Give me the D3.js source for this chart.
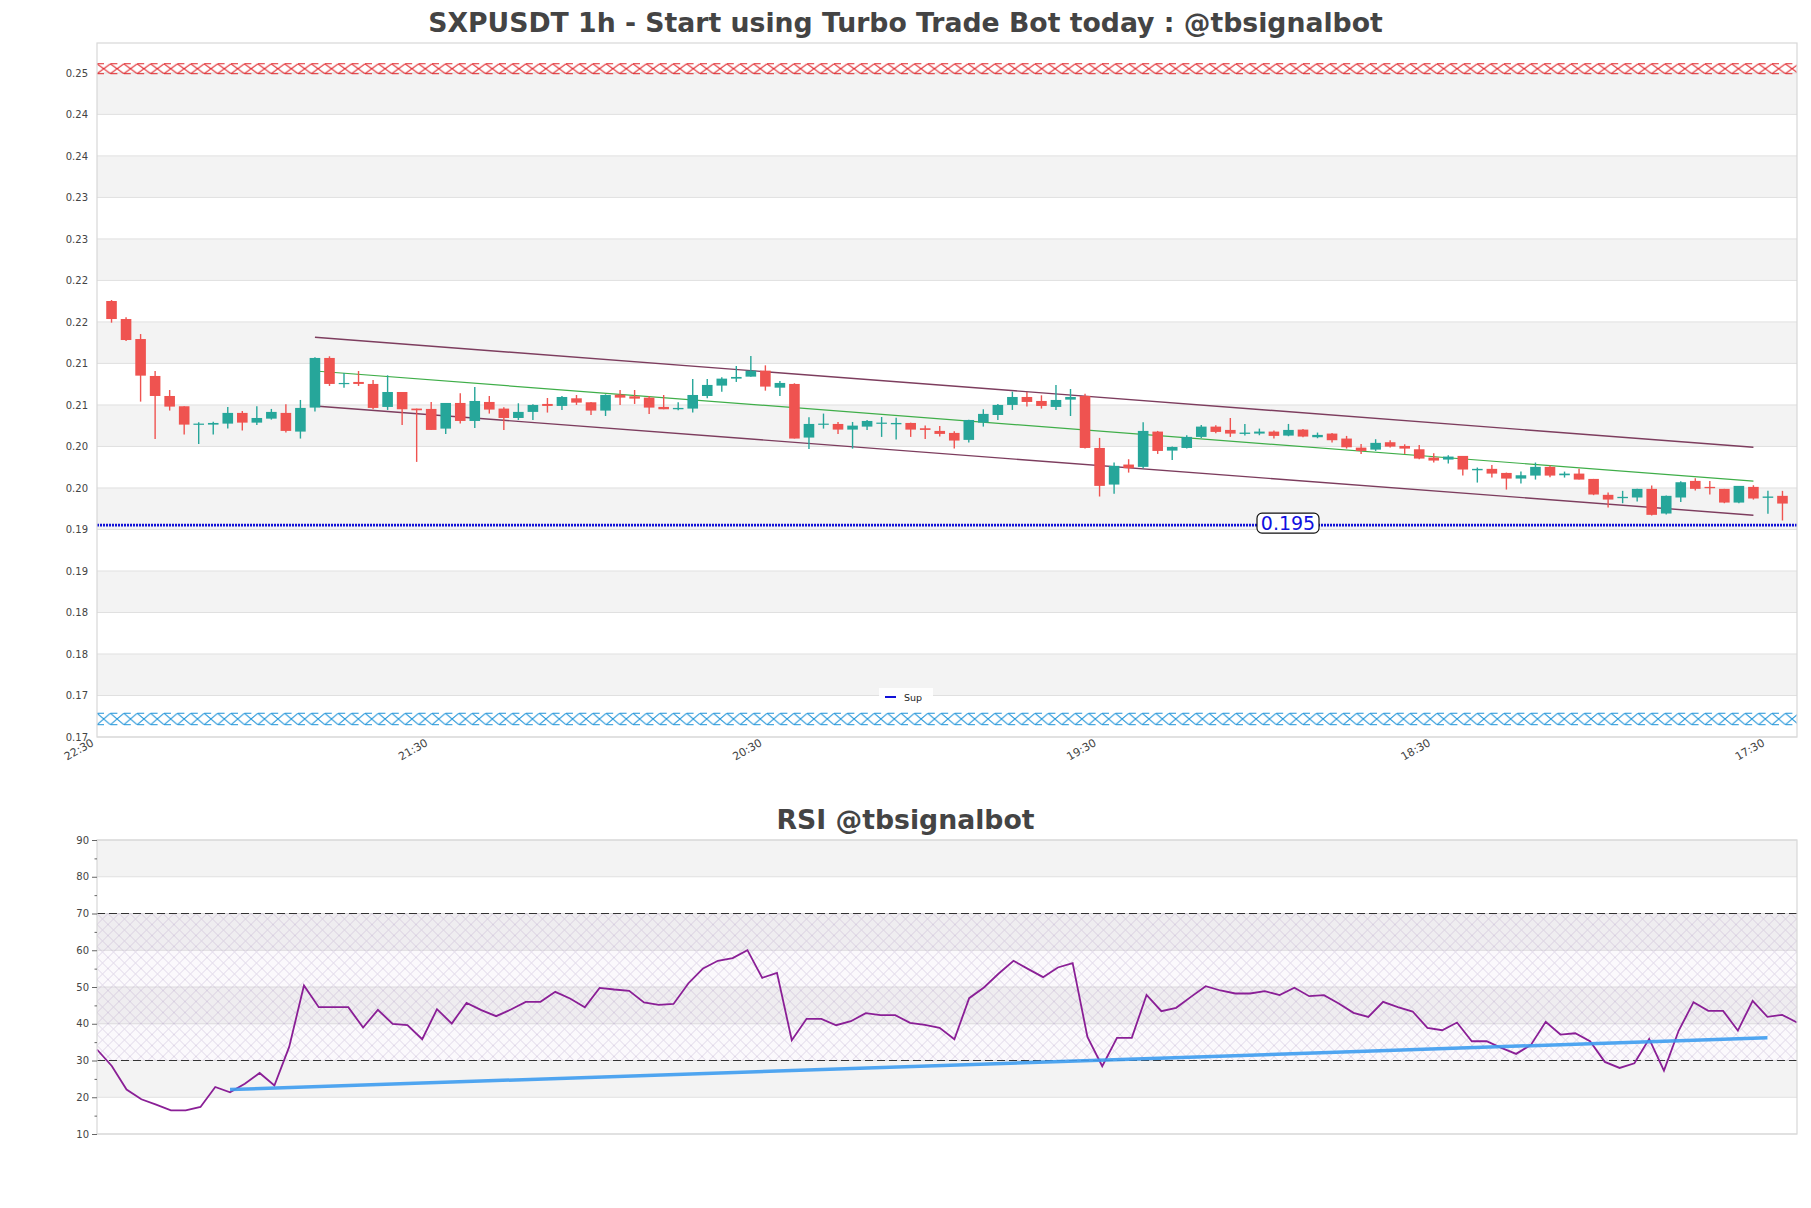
<!DOCTYPE html>
<html><head><meta charset="utf-8">
<script src="https://cdn.jsdelivr.net/npm/d3@7"></script>
<style>body{margin:0;background:#fff;} svg{display:block;font-family:"DejaVu Sans",sans-serif;}</style>
</head><body><svg id="c" width="1811" height="1208"></svg>
<script>
// ---------------- DATA ----------------
const titleMain = "SXPUSDT 1h - Start using Turbo Trade Bot today : @tbsignalbot";
const titleRsi = "RSI @tbsignalbot";

const xTickPos = [0, 23, 46, 69, 92, 115];
const xTickLabels = ["22:30", "21:30", "20:30", "19:30", "18:30", "17:30"];

const yTickValues = [0.1696,0.1746,0.1796,0.1846,0.1896,0.1946,0.1996,0.2046,0.2096,0.2146,0.2196,0.2246,0.2296,0.2346,0.2396,0.2446,0.2496];
const yTickLabels = ["0.17","0.17","0.18","0.18","0.19","0.19","0.20","0.20","0.21","0.21","0.22","0.22","0.23","0.23","0.24","0.24","0.25"];

const opens = [
0.22212,0.21995,0.21754,0.21309,0.21068,0.20944,0.20723,0.20723,0.20735,0.20864,
0.20747,0.20795,0.20864,0.20639,0.20928,0.21526,0.21213,0.21237,0.21213,0.20936,
0.21116,0.20916,0.20912,0.20675,0.20984,0.20767,0.20996,0.20916,0.20803,0.20876,
0.20972,0.20948,0.21040,0.20992,0.20892,0.21084,0.21064,0.21048,0.20936,0.20908,
0.20916,0.21068,0.21193,0.21277,0.21301,0.21373,0.21168,0.21213,0.20567,0.20727,
0.20731,0.20663,0.20699,0.20735,0.20727,0.20743,0.20679,0.20647,0.20623,0.20539,
0.20747,0.20839,0.20960,0.21056,0.21008,0.20936,0.21024,0.21068,0.20442,0.20001,
0.20242,0.20214,0.20639,0.20410,0.20442,0.20575,0.20699,0.20659,0.20611,0.20615,
0.20639,0.20591,0.20663,0.20571,0.20615,0.20555,0.20446,0.20422,0.20511,0.20466,
0.20426,0.20326,0.20302,0.20346,0.20173,0.20190,0.20141,0.20073,0.20109,0.20214,
0.20113,0.20133,0.20069,0.19877,0.19837,0.19845,0.19949,0.19652,0.19845,0.20045,
0.19973,0.19949,0.19784,0.19973,0.19841,0.19865];
const closes = [
0.21995,0.21742,0.21313,0.21068,0.20940,0.20723,0.20735,0.20743,0.20864,0.20747,
0.20803,0.20876,0.20647,0.20924,0.21526,0.21213,0.21225,0.21213,0.20924,0.21116,
0.20908,0.20896,0.20659,0.20984,0.20767,0.21008,0.20904,0.20803,0.20876,0.20960,
0.20948,0.21056,0.20988,0.20892,0.21080,0.21048,0.21036,0.20928,0.20908,0.20924,
0.21080,0.21201,0.21277,0.21297,0.21373,0.21181,0.21225,0.20555,0.20731,0.20735,
0.20663,0.20711,0.20767,0.20747,0.20743,0.20663,0.20659,0.20611,0.20531,0.20779,
0.20852,0.20960,0.21056,0.20996,0.20948,0.21020,0.21056,0.20442,0.19985,0.20226,
0.20198,0.20647,0.20406,0.20454,0.20575,0.20699,0.20635,0.20615,0.20627,0.20639,
0.20587,0.20659,0.20579,0.20599,0.20535,0.20450,0.20406,0.20503,0.20458,0.20434,
0.20314,0.20290,0.20338,0.20182,0.20190,0.20133,0.20073,0.20113,0.20214,0.20109,
0.20133,0.20061,0.19881,0.19820,0.19853,0.19949,0.19636,0.19865,0.20029,0.19949,
0.19957,0.19784,0.19985,0.19833,0.19857,0.19772];
const highs = [
0.22224,0.22015,0.21814,0.21369,0.21140,0.20944,0.20751,0.20759,0.20936,0.20888,
0.20944,0.20912,0.20968,0.21020,0.21534,0.21546,0.21345,0.21369,0.21261,0.21317,
0.21116,0.20916,0.20996,0.20984,0.21100,0.21177,0.21068,0.20932,0.20980,0.20968,
0.21044,0.21068,0.21080,0.20996,0.21088,0.21140,0.21140,0.21068,0.21080,0.20992,
0.21273,0.21273,0.21293,0.21429,0.21550,0.21437,0.21249,0.21221,0.20811,0.20856,
0.20755,0.20755,0.20779,0.20815,0.20807,0.20747,0.20711,0.20707,0.20643,0.20783,
0.20908,0.20972,0.21120,0.21116,0.21076,0.21201,0.21152,0.21096,0.20563,0.20266,
0.20306,0.20751,0.20647,0.20458,0.20595,0.20719,0.20715,0.20803,0.20731,0.20675,
0.20651,0.20731,0.20671,0.20627,0.20623,0.20587,0.20491,0.20547,0.20535,0.20486,
0.20478,0.20378,0.20354,0.20346,0.20206,0.20238,0.20145,0.20157,0.20266,0.20230,
0.20157,0.20190,0.20069,0.19905,0.19925,0.19949,0.19989,0.19869,0.20041,0.20077,
0.20045,0.19949,0.19985,0.19993,0.19925,0.19925];
const lows = [
0.21951,0.21730,0.21000,0.20551,0.20892,0.20603,0.20491,0.20603,0.20675,0.20651,
0.20719,0.20783,0.20627,0.20555,0.20880,0.21189,0.21168,0.21189,0.20908,0.20900,
0.20719,0.20274,0.20659,0.20611,0.20735,0.20683,0.20856,0.20659,0.20779,0.20779,
0.20868,0.20900,0.20960,0.20839,0.20827,0.20960,0.20972,0.20852,0.20908,0.20896,
0.20868,0.21040,0.21120,0.21237,0.21301,0.21132,0.21068,0.20555,0.20430,0.20675,
0.20611,0.20434,0.20659,0.20575,0.20543,0.20575,0.20551,0.20579,0.20434,0.20507,
0.20699,0.20779,0.20900,0.20940,0.20916,0.20900,0.20827,0.20434,0.19857,0.19889,
0.20145,0.20198,0.20370,0.20298,0.20434,0.20563,0.20619,0.20575,0.20591,0.20595,
0.20555,0.20583,0.20571,0.20559,0.20507,0.20434,0.20370,0.20406,0.20446,0.20370,
0.20306,0.20266,0.20254,0.20109,0.20025,0.20085,0.19941,0.20013,0.20061,0.20089,
0.20085,0.20061,0.19873,0.19724,0.19776,0.19796,0.19628,0.19640,0.19792,0.19929,
0.19881,0.19776,0.19776,0.19820,0.19648,0.19568];

// channel lines: [index, value] end points
const channelUpper = [[15, 0.21775], [114, 0.20450]];
const channelMid   = [[15, 0.21369], [114, 0.20042]];
const channelLower = [[15, 0.20948], [114, 0.19632]];

const resistanceZone = [0.2495, 0.2507];
const supportZone = [0.17108, 0.17246];
const supportLevel = 0.19512;
const legendLabels = ["Sup"];

const rsiValues = [
33.0,28.5,22.1,19.45,18.0,16.45,16.45,17.36,22.8,21.35,
23.7,26.6,23.2,33.7,50.4,44.5,44.5,44.5,38.97,43.78,
39.97,39.6,35.8,43.96,40.06,45.69,43.7,42.06,43.87,45.96,
45.96,48.69,46.87,44.5,49.77,49.32,48.96,45.78,45.14,45.4,
50.96,55.04,57.13,57.86,60.03,52.5,53.86,35.52,41.33,41.33,
39.6,40.69,42.87,42.33,42.33,40.24,39.7,38.88,35.79,46.96,
49.86,53.68,57.13,54.86,52.68,55.31,56.49,36.42,28.43,36.15,
36.15,47.86,43.42,44.33,47.32,50.22,49.05,48.23,48.23,48.87,
47.78,49.78,47.5,47.78,45.5,42.96,41.87,45.96,44.5,43.33,
38.88,38.24,40.33,35.24,35.24,33.43,31.8,34.25,40.51,37.06,
37.42,35.24,29.62,27.98,29.25,35.88,27.25,38.15,45.87,43.51,
43.51,38.15,46.23,41.87,42.42,40.33];
const rsiTrend = [[9, 22.1], [113, 36.2]];
const rsiMajorTicks = [10,20,30,40,50,60,70,80,90];
const rsiMinorTicks = [15,25,35,45,55,65,75,85];
const rsiLevels = [30, 70];
const rsiGrayBands = [[20,30],[40,50],[60,70],[80,90]];

// ---------------- DRAW ----------------
const svg = d3.select("#c");
const defs = svg.append("defs");
const TX0 = 97, TX1 = 1797, TY0 = 43, TY1 = 737;
const RY0 = 840, RY1 = 1134;

const candles = opens.map((o,i)=>({i:i+1,o,c:closes[i],h:highs[i],l:lows[i]}));
const xT = d3.scaleLinear().domain([0,117]).range([TX0,TX1]);
const yT = d3.scaleLinear().domain([0.1696,0.2532]).range([TY1,TY0]);
const xR = d3.scaleLinear().domain([0,rsiValues.length-1]).range([TX0,TX1]);
const yR = d3.scaleLinear().domain([10,90]).range([RY1,RY0]);

// titles
svg.append("text").attr("x",905.5).attr("y",31.5).attr("text-anchor","middle")
  .attr("font-size",26.7).attr("font-weight","bold").attr("fill","#444").text(titleMain);
svg.append("text").attr("x",905.5).attr("y",829).attr("text-anchor","middle")
  .attr("font-size",26.7).attr("font-weight","bold").attr("fill","#444").text(titleRsi);

// ---- top panel ----
const gT = svg.append("g");
gT.append("rect").attr("x",TX0).attr("y",TY0).attr("width",TX1-TX0).attr("height",TY1-TY0).attr("fill","#fff");
for (let k=1;k<yTickValues.length-1;k+=2){
  gT.append("rect").attr("x",TX0).attr("width",TX1-TX0)
    .attr("y",yT(yTickValues[k+1])).attr("height",yT(yTickValues[k])-yT(yTickValues[k+1]))
    .attr("fill","#f3f3f3");
}
gT.selectAll("line.grid").data(yTickValues).join("line")
  .attr("x1",TX0).attr("x2",TX1).attr("y1",d=>yT(d)).attr("y2",d=>yT(d))
  .attr("stroke","#e0e0e0").attr("stroke-width",1);

function zone(range, color, id){
  const yTop = yT(range[1]), yBot = yT(range[0]), h = yBot - yTop;
  const w = 13.4;
  const p = defs.append("pattern").attr("id",id).attr("patternUnits","userSpaceOnUse")
    .attr("x",TX0).attr("y",yTop).attr("width",w).attr("height",h);
  p.append("path").attr("d",`M0,0L${w},${h}M${w},0L0,${h}`).attr("stroke",color).attr("stroke-width",1).attr("fill","none");
  gT.append("rect").attr("x",TX0).attr("y",yTop).attr("width",TX1-TX0).attr("height",h)
    .attr("fill",`url(#${id})`);
  gT.append("line").attr("x1",TX0).attr("x2",TX1).attr("y1",yTop).attr("y2",yTop).attr("stroke",color).attr("stroke-width",1).attr("stroke-dasharray","7,6.4");
  gT.append("line").attr("x1",TX0).attr("x2",TX1).attr("y1",yBot).attr("y2",yBot).attr("stroke",color).attr("stroke-width",1).attr("stroke-dasharray","7,6.4");
}
zone(resistanceZone, "#e0262b", "hatchR");
zone(supportZone, "#1f93d8", "hatchS");

// support level
gT.append("line").attr("x1",TX0).attr("x2",TX1).attr("y1",yT(supportLevel)).attr("y2",yT(supportLevel))
  .attr("stroke","#1010d8").attr("stroke-width",2.6).attr("stroke-dasharray","2,1");

// channel lines
const lineT = d3.line().x(d=>xT(d[0])).y(d=>yT(d[1]));
gT.append("path").attr("d",lineT(channelUpper)).attr("stroke","#7d3d5e").attr("stroke-width",1.4).attr("fill","none");
gT.append("path").attr("d",lineT(channelLower)).attr("stroke","#7d3d5e").attr("stroke-width",1.4).attr("fill","none");
gT.append("path").attr("d",lineT(channelMid)).attr("stroke","#3fae49").attr("stroke-width",1.2).attr("fill","none");

// candles
const up = "#26a69a", dn = "#ef5350";
const cg = gT.append("g");
cg.selectAll("line").data(candles).join("line")
  .attr("x1",d=>xT(d.i)).attr("x2",d=>xT(d.i)).attr("y1",d=>yT(d.h)).attr("y2",d=>yT(d.l))
  .attr("stroke",d=>d.c>=d.o?up:dn).attr("stroke-width",1.4);
const bw = 10.6;
cg.selectAll("rect").data(candles).join("rect")
  .attr("x",d=>xT(d.i)-bw/2).attr("width",bw)
  .attr("y",d=>yT(Math.max(d.o,d.c)))
  .attr("height",d=>Math.max(1.2, Math.abs(yT(d.o)-yT(d.c))))
  .attr("fill",d=>d.c>=d.o?up:dn);

// support label
const lx = 1288, ly = yT(supportLevel);
gT.append("rect").attr("x",lx-31).attr("y",ly-12).attr("width",62).attr("height",20).attr("rx",5)
  .attr("fill","#fff").attr("stroke","#111").attr("stroke-width",1.2);
gT.append("text").attr("x",lx).attr("y",ly+5).attr("text-anchor","middle").attr("font-size",19)
  .attr("fill","#1010e0").text(supportLevel.toFixed(3));

// legend
const lg = gT.append("g").attr("transform","translate(879,688)");
lg.append("rect").attr("width",54).attr("height",18).attr("fill","#fff").attr("opacity",0.9);
lg.append("line").attr("x1",6).attr("x2",17).attr("y1",9).attr("y2",9).attr("stroke","#1010d8").attr("stroke-width",2);
lg.append("text").attr("x",25).attr("y",12.5).attr("font-size",9.5).attr("fill","#222").text(legendLabels[0]);

// border
gT.append("rect").attr("x",TX0).attr("y",TY0).attr("width",TX1-TX0).attr("height",TY1-TY0)
  .attr("fill","none").attr("stroke","#d8d8d8").attr("stroke-width",1.2);

// axes
const ay = gT.append("g").attr("transform",`translate(${TX0},0)`)
  .call(d3.axisLeft(yT).tickValues(yTickValues).tickFormat((d,i)=>yTickLabels[i]).tickSize(0).tickPadding(9));
ay.select(".domain").remove();
ay.selectAll("text").attr("font-size",10).attr("fill","#444").attr("font-family","DejaVu Sans");

const ax = gT.append("g").attr("transform",`translate(0,${TY1})`)
  .call(d3.axisBottom(xT).tickValues(xTickPos).tickFormat((d,i)=>xTickLabels[i]).tickSize(0));
ax.select(".domain").remove();
ax.selectAll("text").attr("font-size",11).attr("fill","#444").attr("font-family","DejaVu Sans")
  .attr("x",0).attr("y",0).attr("dy",0).attr("text-anchor","end")
  .attr("transform","translate(-3,8) rotate(-30)");

// ---- RSI panel ----
const gR = svg.append("g");
gR.append("rect").attr("x",TX0).attr("y",RY0).attr("width",TX1-TX0).attr("height",RY1-RY0).attr("fill","#fff");
gR.selectAll("rect.band").data(rsiGrayBands).join("rect").attr("class","band")
  .attr("x",TX0).attr("width",TX1-TX0).attr("y",d=>yR(d[1])).attr("height",d=>yR(d[0])-yR(d[1]))
  .attr("fill","#f3f3f3");
gR.selectAll("line.grid").data(rsiMajorTicks).join("line").attr("class","grid")
  .attr("x1",TX0).attr("x2",TX1).attr("y1",d=>yR(d)).attr("y2",d=>yR(d))
  .attr("stroke","#e0e0e0").attr("stroke-width",1);

const hp = defs.append("pattern").attr("id","hatchRsi").attr("patternUnits","userSpaceOnUse")
  .attr("x",TX0).attr("y",yR(70)).attr("width",11).attr("height",11);
hp.append("path").attr("d","M0,0L11,11M11,0L0,11").attr("stroke","#b3a2c8").attr("stroke-width",0.6).attr("opacity",0.65);
gR.append("rect").attr("x",TX0).attr("width",TX1-TX0).attr("y",yR(70)).attr("height",yR(30)-yR(70))
  .attr("fill","#8a5fb0").attr("opacity",0.035);
gR.append("rect").attr("x",TX0).attr("width",TX1-TX0).attr("y",yR(70)).attr("height",yR(30)-yR(70))
  .attr("fill","url(#hatchRsi)");

gR.selectAll("line.lvl").data(rsiLevels).join("line").attr("class","lvl")
  .attr("x1",TX0).attr("x2",TX1).attr("y1",d=>yR(d)).attr("y2",d=>yR(d))
  .attr("stroke","#333").attr("stroke-width",1.2).attr("stroke-dasharray","8,4");

const lineR = d3.line().x((d,i)=>xR(i)).y(d=>yR(d));
gR.append("path").attr("d",lineR(rsiValues)).attr("fill","none").attr("stroke","#8a1f96").attr("stroke-width",1.8);
gR.append("path").attr("d",d3.line().x(d=>xR(d[0])).y(d=>yR(d[1]))(rsiTrend))
  .attr("fill","none").attr("stroke","#3d9cf0").attr("stroke-width",3.5).attr("opacity",0.9);

gR.append("rect").attr("x",TX0).attr("y",RY0).attr("width",TX1-TX0).attr("height",RY1-RY0)
  .attr("fill","none").attr("stroke","#d8d8d8").attr("stroke-width",1.2);

const ayR = gR.append("g").attr("transform",`translate(${TX0},0)`)
  .call(d3.axisLeft(yR).tickValues(rsiMajorTicks).tickSize(5).tickPadding(3).tickFormat(d3.format("d")));
ayR.select(".domain").remove();
ayR.selectAll("line").attr("stroke","#666");
ayR.selectAll("text").attr("font-size",10).attr("fill","#444").attr("font-family","DejaVu Sans");
const ayR2 = gR.append("g").attr("transform",`translate(${TX0},0)`)
  .call(d3.axisLeft(yR).tickValues(rsiMinorTicks).tickSize(2.5).tickFormat(""));
ayR2.select(".domain").remove();
ayR2.selectAll("line").attr("stroke","#666");
</script></body></html>
